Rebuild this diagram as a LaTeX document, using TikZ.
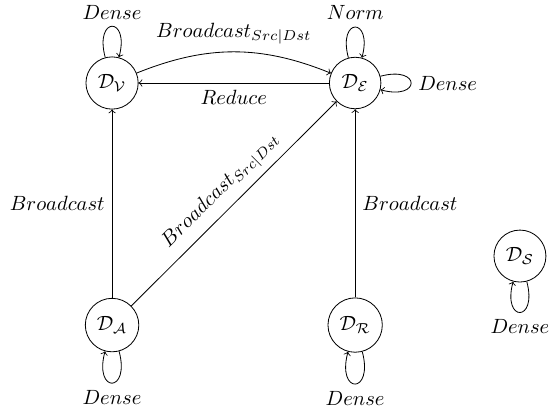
\documentclass[tikz,border=0pt]{standalone}
\usepackage{tikz}

\begin{document}
\begin{tikzpicture}
[dnode/.style={circle, minimum size=25pt, draw=black},
 edge/.style={->, color=black},
 loopdown/.style={out=-75, in=-105, loop}]
\useasboundingbox (-54.4pt, -162.1pt) rectangle (215.5pt, 40.3pt);
\node (V) [dnode] at (0.0pt, 0.0pt) {$\mathcal{D}_\mathcal{V}$};
\node (E) [dnode] at (118.0pt, 0.0pt) {$\mathcal{D}_\mathcal{E}$};
\node (A) [dnode] at (0.0pt, -117.5pt) {$\mathcal{D}_\mathcal{A}$};
\node (R) [dnode] at (118.0pt, -117.5pt) {$\mathcal{D}_\mathcal{R}$};
\node (S) [dnode] at (198.0pt, -84.0pt) {$\mathcal{D}_\mathcal{S}$};
\draw [edge] (V) to [loop above] node [above] {$Dense$} (V);
\draw [edge] (E) to [loop above] node [above] {$Norm$} (E);
\draw [edge] (E) to [loop right] node [right] {$Dense$} (E);
\draw [edge] (A) to [loopdown] node [below] {$Dense$} (A);
\draw [edge] (R) to [loopdown] node [below] {$Dense$} (R);
\draw [edge] (S) to [loopdown] node [below] {$Dense$} (S);
\draw [edge] (V) to [bend left=22] node [above] {$Broadcast_{Src|Dst}$} (E);
\draw [edge] (E) to node [below] {$Reduce$} (V);
\draw [edge] (A) to node [left] {$Broadcast$} (V);
\draw [edge] (R) to node [right] {$Broadcast$} (E);
\draw [edge] (A) to node [above, sloped] {$Broadcast_{Src|Dst}$} (E);
\end{tikzpicture}
\end{document}
